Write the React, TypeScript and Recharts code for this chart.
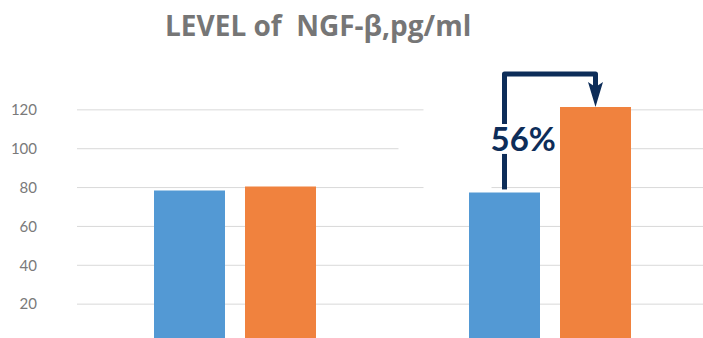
import { BarChart, Bar, XAxis, YAxis, CartesianGrid, LabelList } from 'recharts';

// values
const groups = ['Group 1', 'Group 2'];
const levelBefore = [78.5, 77.5];
const levelAfter = [80.5, 121.5];
const yTicks = [20, 40, 60, 80, 100, 120];
const changeLabel = '56%';
const title = 'LEVEL of  NGF-β,pg/ml';

const data = groups.map((g, i) => ({ group: g, before: levelBefore[i], after: levelAfter[i] }));

const BLUE = '#5399d4';
const ORANGE = '#f0823e';
const NAVY = '#0d2d59';
const BAR_GAP = 20;

// arrow + percentage drawn on top of the second orange bar
function ArrowNote(props: any) {
  if (props.index !== 1) return null;
  const vb = props.viewBox ?? props;
  const { x, y, width, height } = vb;
  const bottom = y + height;
  const pxPerUnit = height / levelAfter[1];
  const toY = (v: number) => bottom - v * pxPerUnit;

  const ox = x + width / 2;
  const bx = ox - width - BAR_GAP;
  const topY = y - 33;
  const blueTop = toY(levelBefore[1]) - 3;

  return (
    <g>
      {/* white box behind the note hides parts of the grid */}
      <rect x={bx - 81} y={toY(120) - 3} width={x - (bx - 81)} height={6} fill="#fff" />
      <rect x={bx - 106} y={toY(100) - 3} width={x - (bx - 106)} height={6} fill="#fff" />
      <rect x={bx - 81} y={toY(80) - 2.5} width={68} height={5} fill="#fff" />

      <path d={`M${bx},${blueTop} V${topY + 80}`} stroke={NAVY} strokeWidth={5} fill="none" />
      <path
        d={`M${bx},${topY + 50} V${topY} H${ox} V${y - 20}`}
        stroke={NAVY}
        strokeWidth={5}
        fill="none"
        strokeLinejoin="round"
      />
      <polygon
        points={`${ox - 7.5},${y - 25} ${ox},${y - 20} ${ox + 7.5},${y - 25} ${ox},${y}`}
        fill={NAVY}
      />
      <text
        x={bx - 14}
        y={topY + 77}
        fill={NAVY}
        fontFamily="Lato, sans-serif"
        fontWeight={700}
        fontSize={33}
      >
        {changeLabel}
      </text>
    </g>
  );
}

export default function App() {
  return (
    <div
      style={{
        position: 'absolute',
        left: 0,
        top: 0,
        width: 703,
        height: 338,
        overflow: 'hidden',
        background: '#fff',
      }}
    >
      <div
        style={{
          position: 'absolute',
          left: 165,
          top: 11,
          whiteSpace: 'pre',
          fontFamily: '"Open Sans", sans-serif',
          fontWeight: 700,
          fontSize: 28,
          lineHeight: '28px',
          color: '#767676',
          zIndex: 1,
        }}
      >
        {title}
      </div>
      <BarChart
        width={710}
        height={350}
        data={data}
        margin={{ top: 71, right: 3, left: 0, bottom: 7 }}
        barGap={BAR_GAP}
        barSize={71}
      >
        <CartesianGrid vertical={false} stroke="#d9d9d9" horizontalValues={yTicks} />
        <XAxis dataKey="group" hide />
        <YAxis
          width={77}
          domain={[0, 140]}
          ticks={yTicks}
          interval={0}
          tickLine={false}
          axisLine={false}
          tickMargin={34}
          tick={{ fill: '#7a7a7a', fontSize: 15, fontFamily: 'Lato, sans-serif' }}
        />
        <Bar dataKey="before" fill={BLUE} isAnimationActive={false} />
        <Bar dataKey="after" fill={ORANGE} isAnimationActive={false}>
          <LabelList dataKey="after" content={ArrowNote} />
        </Bar>
      </BarChart>
    </div>
  );
}
